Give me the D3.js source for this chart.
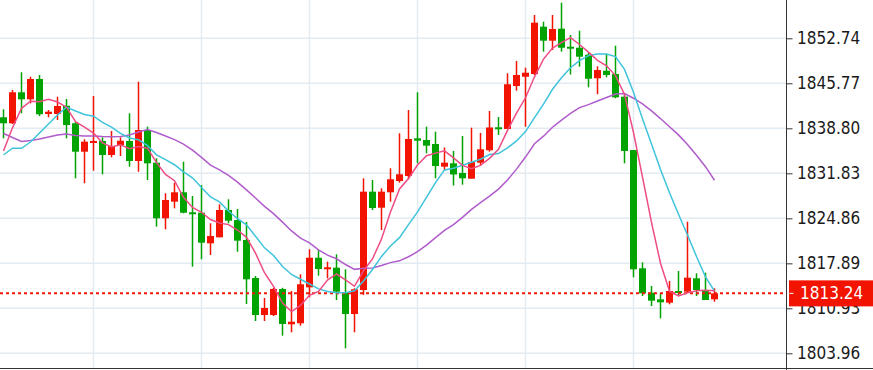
<!DOCTYPE html>
<html>
<head>
<meta charset="utf-8">
<script src="https://cdn.jsdelivr.net/npm/d3@7"></script>
<style>
  body { margin: 0; background: #fff; }
  svg { display: block; }
  .eje text { font-family: "DejaVu Sans Condensed", "DejaVu Sans", sans-serif; font-stretch: condensed; font-size: 17px; fill: #1a1a1a; }
</style>
</head>
<body>
<svg id="canvas" width="873" height="370"></svg>
<script>
// Datos de las velas (apertura, máximo, mínimo, cierre)
const aperturas = [1840.51, 1839.58, 1844.38, 1843.29, 1846.44, 1841.02, 1841.02, 1842.30, 1839.58, 1835.18,
  1836.68, 1836.84, 1834.67, 1836.22, 1836.84, 1833.74, 1838.54, 1833.48, 1824.87, 1827.44,
  1828.89, 1825.80, 1825.73, 1820.99, 1821.92, 1826.15, 1824.60, 1821.51, 1815.62, 1809.89,
  1809.89, 1813.92, 1808.45, 1808.61, 1814.18, 1818.76, 1817.01, 1817.22, 1813.34, 1810.05,
  1813.76, 1828.99, 1826.51, 1828.89, 1830.64, 1831.42, 1837.25, 1836.99, 1836.37, 1832.86,
  1833.38, 1831.88, 1831.00, 1833.48, 1835.40, 1838.96, 1838.69, 1845.35, 1846.79, 1847.21,
  1854.54, 1852.37, 1854.23, 1851.44, 1851.28, 1850.20, 1846.55, 1847.72, 1847.21, 1843.70,
  1835.44, 1817.12, 1813.34, 1812.32, 1811.80, 1813.61, 1813.50, 1815.57, 1813.65, 1812.32];
const maximos = [1841.75, 1844.73, 1847.48, 1846.79, 1847.06, 1841.64, 1843.70, 1843.34, 1839.78, 1837.10,
  1843.81, 1837.41, 1838.39, 1837.41, 1841.13, 1846.02, 1839.05, 1834.16, 1828.74, 1830.38,
  1833.63, 1828.32, 1830.02, 1824.09, 1827.03, 1827.81, 1826.31, 1824.29, 1815.93, 1812.52,
  1814.10, 1814.10, 1813.61, 1816.19, 1820.07, 1819.96, 1818.15, 1819.29, 1816.97, 1814.03,
  1831.06, 1830.80, 1829.51, 1832.61, 1838.03, 1841.64, 1844.38, 1839.05, 1838.28, 1835.83,
  1835.29, 1837.61, 1838.90, 1838.08, 1841.48, 1840.55, 1847.32, 1849.22, 1848.19, 1856.35,
  1855.31, 1856.35, 1858.25, 1853.25, 1853.92, 1850.51, 1848.40, 1850.34, 1851.59, 1843.96,
  1835.44, 1818.05, 1814.38, 1813.25, 1815.16, 1816.70, 1824.34, 1816.35, 1816.44, 1814.03];
const minimos = [1837.25, 1839.47, 1841.13, 1842.67, 1840.71, 1840.51, 1840.09, 1837.25, 1831.06, 1830.29,
  1832.24, 1831.68, 1834.31, 1834.51, 1832.86, 1832.08, 1830.80, 1823.57, 1823.16, 1826.41,
  1825.64, 1817.37, 1818.52, 1819.18, 1821.92, 1824.09, 1819.69, 1811.59, 1808.96, 1808.96,
  1809.74, 1806.69, 1807.21, 1808.23, 1812.63, 1815.98, 1815.57, 1812.21, 1804.73, 1807.21,
  1812.99, 1826.15, 1823.05, 1827.44, 1830.38, 1830.91, 1833.38, 1834.93, 1831.06, 1832.27,
  1829.94, 1830.07, 1831.00, 1833.12, 1835.18, 1837.77, 1838.69, 1844.63, 1839.05, 1847.06,
  1850.67, 1850.93, 1850.67, 1847.13, 1848.34, 1845.15, 1844.08, 1846.70, 1843.45, 1833.38,
  1815.73, 1812.83, 1811.28, 1809.38, 1811.55, 1812.88, 1813.34, 1812.83, 1812.21, 1811.95];
const cierres = [1839.58, 1844.38, 1843.29, 1846.44, 1840.97, 1841.37, 1842.26, 1839.31, 1835.18, 1836.73,
  1836.84, 1834.67, 1836.06, 1836.88, 1833.74, 1838.54, 1833.38, 1824.87, 1827.70, 1828.89,
  1825.73, 1825.58, 1821.09, 1822.13, 1826.15, 1824.49, 1821.40, 1815.42, 1809.89, 1810.98,
  1813.92, 1808.50, 1808.85, 1814.65, 1818.76, 1817.01, 1817.28, 1813.50, 1810.05, 1813.87,
  1828.99, 1826.46, 1828.99, 1830.91, 1831.68, 1837.15, 1836.88, 1836.11, 1832.96, 1833.48,
  1831.65, 1831.06, 1833.58, 1835.55, 1838.93, 1838.65, 1845.62, 1847.06, 1847.41, 1855.16,
  1852.37, 1854.18, 1851.28, 1851.19, 1849.89, 1846.48, 1847.83, 1847.06, 1843.60, 1835.29,
  1816.97, 1813.25, 1812.11, 1811.86, 1813.61, 1813.34, 1815.67, 1813.76, 1812.21, 1813.24];

// Medias móviles (5, 10 y 20 periodos)
const media5 = [1835.30, 1838.90, 1841.90, 1843.00, 1842.93, 1843.29, 1842.87, 1842.07, 1839.82, 1838.97,
  1838.06, 1836.55, 1835.90, 1836.24, 1835.64, 1835.98, 1835.72, 1833.48, 1831.65, 1830.68,
  1828.11, 1826.55, 1825.80, 1824.68, 1824.14, 1823.89, 1823.05, 1821.92, 1819.47, 1816.44,
  1814.32, 1811.74, 1810.43, 1811.38, 1812.94, 1813.55, 1815.31, 1816.24, 1815.32, 1814.34,
  1816.74, 1818.57, 1821.67, 1825.84, 1829.41, 1831.04, 1833.12, 1834.55, 1834.96, 1835.32,
  1834.22, 1833.05, 1832.55, 1833.06, 1834.15, 1835.55, 1838.47, 1841.16, 1843.53, 1846.78,
  1849.52, 1851.24, 1852.08, 1852.84, 1851.78, 1850.60, 1849.33, 1848.49, 1846.97, 1844.05,
  1838.15, 1831.23, 1824.24, 1817.90, 1813.56, 1812.83, 1813.32, 1813.65, 1813.72, 1813.64];
const media10 = [1834.67, 1835.71, 1835.71, 1836.68, 1838.08, 1839.47, 1840.86, 1842.10, 1841.48, 1840.95,
  1840.68, 1839.71, 1838.98, 1838.03, 1837.30, 1837.02, 1836.13, 1834.69, 1833.94, 1833.16,
  1832.05, 1831.14, 1829.64, 1828.17, 1827.41, 1826.00, 1824.80, 1823.86, 1822.08, 1820.29,
  1819.11, 1817.40, 1816.17, 1815.43, 1814.69, 1813.94, 1813.53, 1813.33, 1813.35, 1813.64,
  1815.15, 1816.94, 1818.96, 1820.58, 1821.87, 1823.89, 1825.85, 1828.11, 1830.40, 1832.36,
  1832.63, 1833.09, 1833.55, 1834.01, 1834.74, 1834.89, 1835.76, 1836.85, 1838.30, 1840.47,
  1842.54, 1844.85, 1846.62, 1848.19, 1849.28, 1850.06, 1850.29, 1850.29, 1849.90, 1847.92,
  1844.38, 1840.28, 1836.37, 1832.43, 1828.81, 1825.49, 1822.28, 1818.95, 1815.81, 1813.60];
const media20 = [1838.00, 1837.38, 1836.76, 1836.91, 1837.15, 1837.46, 1837.77, 1837.92, 1837.69, 1837.61,
  1837.61, 1837.53, 1837.50, 1837.53, 1837.77, 1838.23, 1838.62, 1838.15, 1837.61, 1837.05,
  1836.36, 1835.42, 1834.31, 1833.10, 1832.36, 1831.51, 1830.47, 1829.27, 1828.01, 1826.72,
  1825.58, 1824.27, 1822.91, 1821.80, 1821.05, 1819.97, 1819.16, 1818.60, 1817.71, 1816.96,
  1817.13, 1817.17, 1817.56, 1818.00, 1818.28, 1818.91, 1819.69, 1820.72, 1821.88, 1823.00,
  1823.89, 1825.01, 1826.25, 1827.30, 1828.30, 1829.39, 1830.80, 1832.48, 1834.35, 1836.41,
  1837.58, 1838.97, 1840.08, 1841.10, 1842.01, 1842.47, 1843.02, 1843.57, 1844.10, 1844.19,
  1843.46, 1842.57, 1841.49, 1840.31, 1839.04, 1837.78, 1836.28, 1834.62, 1832.86, 1830.76];

// Marcas del eje de precios y velas con línea vertical de rejilla
const ticksPrecio = [1803.96, 1810.93, 1817.89, 1824.86, 1831.83, 1838.80, 1845.77, 1852.74];
const velasRejilla = [10, 22, 34, 46, 58, 70];
const ultimoPrecio = 1813.24;

const width = 873, height = 370;
const ejeX = 786.5;   // línea del eje de precios
const fondoY = 368.5; // línea inferior
const svg = d3.select("#canvas");

const rojo = "#f21300", verde = "#00a300";

// Escalas
const x = d3.scaleLinear().domain([0, 87]).range([3.5, ejeX]);
const y = d3.scaleLinear().domain([1803.96, 1852.74]).range([353.3, 38.3]);
const anchoVela = 7;

// Rejilla horizontal
svg.append("g")
  .selectAll("line")
  .data(ticksPrecio)
  .join("line")
  .attr("x1", 0)
  .attr("x2", ejeX)
  .attr("y1", d => y(d))
  .attr("y2", d => y(d))
  .attr("stroke", "#e3ebf2")
  .attr("stroke-width", 1.5);

// Rejilla vertical
svg.append("g")
  .selectAll("line")
  .data(velasRejilla)
  .join("line")
  .attr("x1", d => x(d))
  .attr("x2", d => x(d))
  .attr("y1", 0)
  .attr("y2", fondoY)
  .attr("stroke", "#e3ebf2")
  .attr("stroke-width", 1.5);

// Velas
const velas = cierres.map((c, i) => ({ i: i, o: aperturas[i], h: maximos[i], l: minimos[i], c: c }));
const gVelas = svg.append("g");

gVelas.selectAll("line")
  .data(velas)
  .join("line")
  .attr("x1", d => x(d.i))
  .attr("x2", d => x(d.i))
  .attr("y1", d => y(d.h))
  .attr("y2", d => y(d.l))
  .attr("stroke", d => d.c >= d.o ? rojo : verde)
  .attr("stroke-width", 1.5);

gVelas.selectAll("rect")
  .data(velas)
  .join("rect")
  .attr("x", d => x(d.i) - anchoVela / 2)
  .attr("width", anchoVela)
  .attr("y", d => y(Math.max(d.o, d.c)))
  .attr("height", d => Math.max(2, Math.abs(y(d.o) - y(d.c))))
  .attr("fill", d => d.c >= d.o ? rojo : verde);

// Línea discontinua del último precio
svg.append("line")
  .attr("x1", 0)
  .attr("x2", ejeX)
  .attr("y1", y(ultimoPrecio))
  .attr("y2", y(ultimoPrecio))
  .attr("stroke", "#f0190c")
  .attr("stroke-width", 2)
  .attr("stroke-dasharray", "3,3");

// Medias móviles
const linea = d3.line()
  .x((d, i) => x(i))
  .y(d => y(d));

[[media20, "#b05ccb"], [media10, "#3fc4dc"], [media5, "#ee4c84"]].forEach(([serie, color]) => {
  svg.append("path")
    .datum(serie)
    .attr("d", linea)
    .attr("fill", "none")
    .attr("stroke", color)
    .attr("stroke-width", 1.5);
});

// Eje de precios a la derecha
svg.append("rect")
  .attr("x", ejeX)
  .attr("y", 0)
  .attr("width", width - ejeX)
  .attr("height", height)
  .attr("fill", "#fff");

const eje = svg.append("g")
  .attr("class", "eje")
  .attr("transform", `translate(${ejeX},0)`)
  .call(d3.axisRight(y).tickValues(ticksPrecio).tickFormat(d3.format(".2f")).tickSize(6).tickPadding(4.5));
eje.select(".domain").remove();
eje.selectAll(".tick line").attr("stroke", "#333");

svg.append("line")
  .attr("x1", ejeX)
  .attr("x2", ejeX)
  .attr("y1", 0)
  .attr("y2", height)
  .attr("stroke", "#333");

svg.append("line")
  .attr("x1", 0)
  .attr("x2", width)
  .attr("y1", fondoY)
  .attr("y2", fondoY)
  .attr("stroke", "#333");

// Etiqueta del último precio
const etiqueta = svg.append("g")
  .attr("class", "eje")
  .attr("transform", `translate(${ejeX},${y(ultimoPrecio)})`);

etiqueta.append("rect")
  .attr("x", 2.5)
  .attr("y", -13)
  .attr("width", width - ejeX)
  .attr("height", 26)
  .attr("fill", rojo);

etiqueta.append("line")
  .attr("x1", 3)
  .attr("x2", 7)
  .attr("stroke", "#fff");

etiqueta.append("text")
  .attr("x", 13.5)
  .attr("dy", "0.32em")
  .style("fill", "#fff")
  .text(ultimoPrecio.toFixed(2));
</script>
</body>
</html>
